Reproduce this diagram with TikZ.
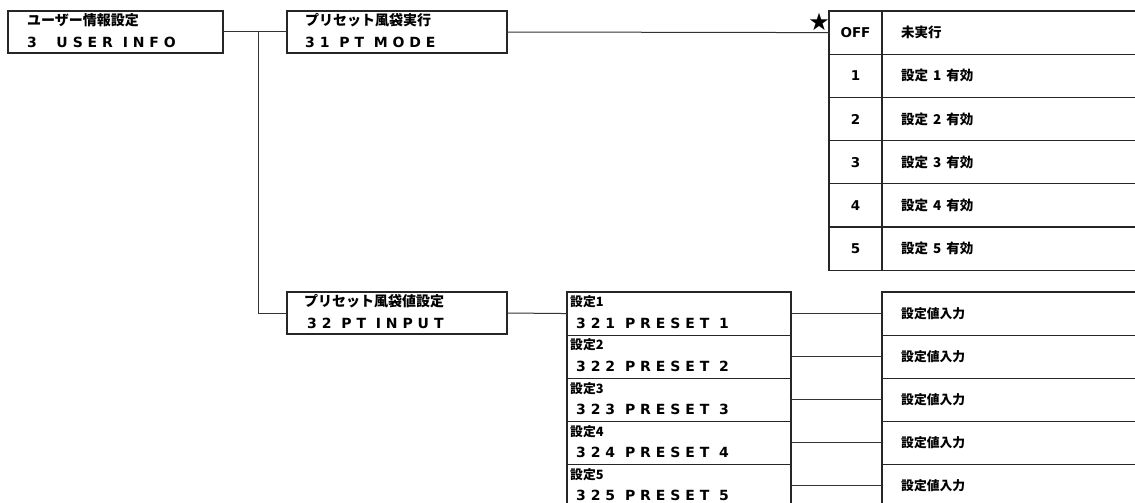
\documentclass[tikz,border=0pt]{standalone}
\usepackage{fontspec}
\newfontfamily\jp{Noto Sans CJK JP}
\newfontfamily\lat{DejaVu Sans}[LetterSpace=35]
\newfontfamily\latn{DejaVu Sans}
\begin{document}
\begin{tikzpicture}[x=1pt,y=-1pt,
  box/.style={draw=black!85,line width=1.2pt,rectangle,inner sep=0pt,outer sep=0pt,anchor=north west},
  con/.style={draw=black!80,line width=1pt},
  jph/.style={anchor=west,inner sep=0pt,font=\jp\bfseries\fontsize{14}{14}\selectfont},
  jps/.style={anchor=west,inner sep=0pt,font=\jp\bfseries\fontsize{12.8}{12.8}\selectfont},
  jpt/.style={anchor=west,inner sep=0pt,font=\jp\bfseries\fontsize{13.5}{13.5}\selectfont},
  lat/.style={anchor=west,inner sep=0pt,font=\lat\bfseries\fontsize{14}{14}\selectfont},
  num/.style={inner sep=0pt,font=\latn\bfseries\fontsize{13.5}{13.5}\selectfont},
]
\useasboundingbox (0,0) rectangle (1135,503);
\begin{scope}
\clip (0,0) rectangle (1135,503);
% main boxes
\node[box,minimum width=215pt,minimum height=42pt] (b1) at (8,11) {};
\node[box,minimum width=220pt,minimum height=42pt] (b2) at (287,11) {};
\node[box,minimum width=220pt,minimum height=42pt] (b3) at (287,292) {};
\node[jph] (b1a) at (27,20) {ユーザー情報設定};
\node[lat] (b1b) at (27,42) {3\ \ USER INFO};
\node[jph] (b2a) at (305,20) {プリセット風袋実行};
\node[lat] (b2b) at (305,42) {31 PT MODE};
\node[jph] (b3a) at (304,301) {プリセット風袋値設定};
\node[lat] (b3b) at (307,323) {32 PT INPUT};
% table
\foreach \i/\a/\b in {0/OFF/未実行,1/1/設定\kern5pt 1\kern5pt 有効,2/2/設定\kern5pt 2\kern5pt 有効,3/3/設定\kern5pt 3\kern5pt 有効,4/4/設定\kern5pt 4\kern5pt 有効,5/5/設定\kern5pt 5\kern5pt 有効}{
  \node[box,minimum width=53pt,minimum height=43.2pt] (tl\i) at (829,{11+43.2*\i}) {};
  \node[box,minimum width=270pt,minimum height=43.2pt] (tr\i) at (882,{11+43.2*\i}) {};
  \node[num] (tla\i) at (tl\i.center) {\a};
  \node[jpt] (tra\i) at ([xshift=19pt]tr\i.west) {\b};
}
\node[inner sep=0pt,font=\latn\fontsize{24}{24}\selectfont] (star) at (819,22) {★};
% presets
\foreach \i in {1,...,5}{
  \node[box,minimum width=224pt,minimum height=43.1pt] (p\i) at (567,{248.9+43.1*\i}) {};
  \node[jps] (pa\i) at (570,{248.9+43.1*\i+10}) {設定\i};
  \node[lat] (pb\i) at (576,{248.9+43.1*\i+31}) {32\i\ PRESET \i};
  \node[box,minimum width=263pt,minimum height=43.1pt] (v\i) at (882,{248.9+43.1*\i}) {};
  \node[jps] (vt\i) at (901,{248.9+43.1*\i+21.5}) {設定値入力};
  \draw[con] (p\i.east) -- (v\i.west);
}
% connectors
\coordinate (j) at (258,32);
\draw[con] (b1.east) -- (b2.west);
\draw[con] (j) |- (b3.west);
\draw[con] (b2.east) -- (tl0.west);
\draw[con] (b3.east) -- (p1.west);
\end{scope}
\end{tikzpicture}
\end{document}
